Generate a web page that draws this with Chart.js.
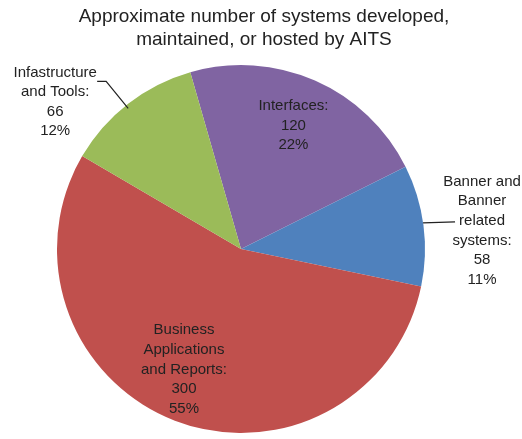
<!DOCTYPE html>
<html>
<head>
<meta charset="utf-8">
<script src="https://cdn.jsdelivr.net/npm/chart.js@4"></script>
<style>
  html, body { margin: 0; padding: 0; background: #fff; }
  #wrap { width: 522px; height: 439px; }
</style>
</head>
<body>
<div id="wrap"><canvas id="pie"></canvas></div>
<script>
// ─── Data ─────────────────────────────────────────────────
const categories = ['Interfaces', 'Banner and Banner related systems', 'Business Applications and Reports', 'Infastructure and Tools'];
const counts     = [120, 58, 300, 66];
const percents   = ['22%', '11%', '55%', '12%'];
const labelLines = [
    ['Interfaces:'],
    ['Banner and', 'Banner', 'related', 'systems:'],
    ['Business', 'Applications', 'and Reports:'],
    ['Infastructure', 'and Tools:']
];
const titleLines = ['Approximate number of systems developed,', 'maintained, or hosted by AITS'];

// ─── Style ────────────────────────────────────────────────
const colors = ['#8064A2', '#4F81BD', '#C0504D', '#9BBB59'];
// label anchor, as fraction of radius from the pie centre
const labelPos = [[0.285, -0.67], [1.31, -0.10], [-0.31, 0.655], [-1.01, -0.80]];
const FONT = '"Liberation Sans", Arial, sans-serif';
const lineH = 19.6;

// title, drawn off-centre like the original
const titleText = {
    id: 'titleText',
    afterDraw(chart) {
        const { ctx } = chart;
        ctx.save();
        ctx.fillStyle = '#222';
        ctx.font = '19px ' + FONT;
        ctx.textAlign = 'center';
        ctx.textBaseline = 'middle';
        titleLines.forEach((t, k) => ctx.fillText(t, 264, 17 + k * 23));
        ctx.restore();
    }
};

const sliceLabels = {
    id: 'sliceLabels',
    afterDatasetsDraw(chart) {
        const { ctx } = chart;
        const arc0 = chart.getDatasetMeta(0).data[0];
        const cx = arc0.x, cy = arc0.y, r = arc0.outerRadius;
        ctx.save();
        ctx.fillStyle = '#222';
        ctx.font = '15px ' + FONT;
        ctx.textAlign = 'center';
        ctx.textBaseline = 'middle';
        counts.forEach((v, i) => {
            const lines = [...labelLines[i], String(v), percents[i]];
            const ax = cx + labelPos[i][0] * r;
            const ay = cy + labelPos[i][1] * r;
            const y0 = ay - (lines.length - 1) * lineH / 2;
            lines.forEach((t, k) => ctx.fillText(t, ax, y0 + k * lineH));
        });

        // leader lines
        ctx.strokeStyle = '#222';
        ctx.lineWidth = 1.2;
        // Infrastructure
        const ix = cx + labelPos[3][0] * r, iy = cy + labelPos[3][1] * r - 1.5 * lineH;
        ctx.beginPath();
        ctx.moveTo(ix + 42, iy + 9);
        ctx.lineTo(ix + 51, iy + 9);
        ctx.lineTo(ix + 73, iy + 36);
        ctx.stroke();
        // Banner
        const bx = cx + labelPos[1][0] * r, by = cy + labelPos[1][1] * r - 0.5 * lineH;
        ctx.beginPath();
        ctx.moveTo(bx - 59, by + 2);
        ctx.lineTo(bx - 27, by + 1);
        ctx.stroke();
        ctx.restore();
    }
};

new Chart(document.getElementById('pie'), {
    type: 'pie',
    data: {
        labels: categories,
        datasets: [{
            data: counts,
            backgroundColor: colors,
            borderWidth: 0
        }]
    },
    options: {
        responsive: true,
        maintainAspectRatio: false,
        animation: false,
        rotation: -16,
        layout: { padding: { left: 57, right: 97, top: 64, bottom: 5 } },
        plugins: {
            legend: { display: false },
            tooltip: { enabled: false },
            title: { display: false }
        }
    },
    plugins: [sliceLabels, titleText]
});
</script>
</body>
</html>
